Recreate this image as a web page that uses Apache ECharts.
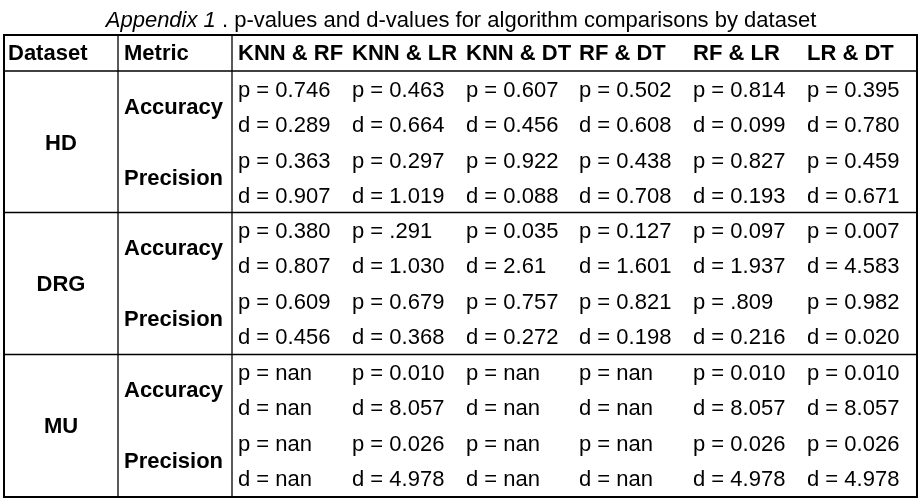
<!DOCTYPE html><html><head><meta charset="utf-8">
<script src="https://cdn.jsdelivr.net/npm/echarts@6/dist/echarts.min.js"></script>
<style>html,body{margin:0;padding:0;background:#fff}#c{width:922px;height:501px}</style></head><body><div id="c"></div>
<script>
const headers = ['Dataset','Metric','KNN & RF','KNN & LR','KNN & DT','RF & DT','RF & LR','LR & DT'];
const datasets = ['HD','DRG','MU'];
const metrics = ['Accuracy','Precision'];
const HD = [
 ['p = 0.746','p = 0.463','p = 0.607','p = 0.502','p = 0.814','p = 0.395'],
 ['d = 0.289','d = 0.664','d = 0.456','d = 0.608','d = 0.099','d = 0.780'],
 ['p = 0.363','p = 0.297','p = 0.922','p = 0.438','p = 0.827','p = 0.459'],
 ['d = 0.907','d = 1.019','d = 0.088','d = 0.708','d = 0.193','d = 0.671']];
const DRG = [
 ['p = 0.380','p = .291','p = 0.035','p = 0.127','p = 0.097','p = 0.007'],
 ['d = 0.807','d = 1.030','d = 2.61','d = 1.601','d = 1.937','d = 4.583'],
 ['p = 0.609','p = 0.679','p = 0.757','p = 0.821','p = .809','p = 0.982'],
 ['d = 0.456','d = 0.368','d = 0.272','d = 0.198','d = 0.216','d = 0.020']];
const MU = [
 ['p = nan','p = 0.010','p = nan','p = nan','p = 0.010','p = 0.010'],
 ['d = nan','d = 8.057','d = nan','d = nan','d = 8.057','d = 8.057'],
 ['p = nan','p = 0.026','p = nan','p = nan','p = 0.026','p = 0.026'],
 ['d = nan','d = 4.978','d = nan','d = nan','d = 4.978','d = 4.978']];
const groups = [HD, DRG, MU];

// layout (in axis units == px)
const colX = [8,124,238,352,466,579,693,807];
const groupTop = [72,213,355];
const rowPitch = 35.6;
const F = 'Liberation Sans, Arial, sans-serif';
const cells = [];
headers.forEach((h,i)=>cells.push([colX[i],54,h,1,'left']));
groups.forEach((g,gi)=>{
  const t = groupTop[gi];
  cells.push([61, t+71.5, datasets[gi],1,'center']);
  metrics.forEach((m,mi)=>cells.push([colX[1], t+36+mi*71, m,1,'left']));
  g.forEach((row,ri)=>row.forEach((v,ci)=>cells.push([colX[ci+2], t+18.5+ri*rowPitch, v,0,'left'])));
});
const lines = [
 [4,71,917,71],[4,212.5,917,212.5],[4,354.5,917,354.5],
 [118,35,118,497],[232,35,232,497]
];
const chart = echarts.init(document.getElementById('c'));
chart.setOption({
 animation:false,
 title:{text:'{i|Appendix 1} . p-values and d-values for algorithm comparisons by dataset',left:'center',top:5,
   textStyle:{fontFamily:F,fontSize:22,fontWeight:'normal',color:'#000',rich:{i:{fontFamily:F,fontSize:22,fontStyle:'italic',color:'#000'}}}},
 grid:{left:0,right:0,top:0,bottom:0},
 xAxis:{type:'value',min:0,max:922,show:false},
 yAxis:{type:'value',min:0,max:501,inverse:true,show:false},
 series:[
  {type:'custom',data:lines,renderItem:(p,api)=>{
     const a=api.coord([api.value(0),api.value(1)]),b=api.coord([api.value(2),api.value(3)]);
     return {type:'line',shape:{x1:a[0],y1:a[1],x2:b[0],y2:b[1]},style:{stroke:'#000',lineWidth:1.3}};
  }},
  {type:'custom',data:[[4,35,917,497]],renderItem:(p,api)=>{
     const a=api.coord([api.value(0),api.value(1)]),b=api.coord([api.value(2),api.value(3)]);
     return {type:'rect',shape:{x:a[0],y:a[1],width:b[0]-a[0],height:b[1]-a[1]},style:{fill:'none',stroke:'#000',lineWidth:2}};
  }},
  {type:'custom',data:cells,renderItem:(p,api)=>{
     const d=cells[p.dataIndex];const c=api.coord([d[0],d[1]]);
     return {type:'text',x:c[0],y:c[1],style:{text:d[2],fill:'#000',font:(d[3]?'bold ':'')+'22px '+F,align:d[4],verticalAlign:'middle'}};
  }}
 ]
});
</script></body></html>
